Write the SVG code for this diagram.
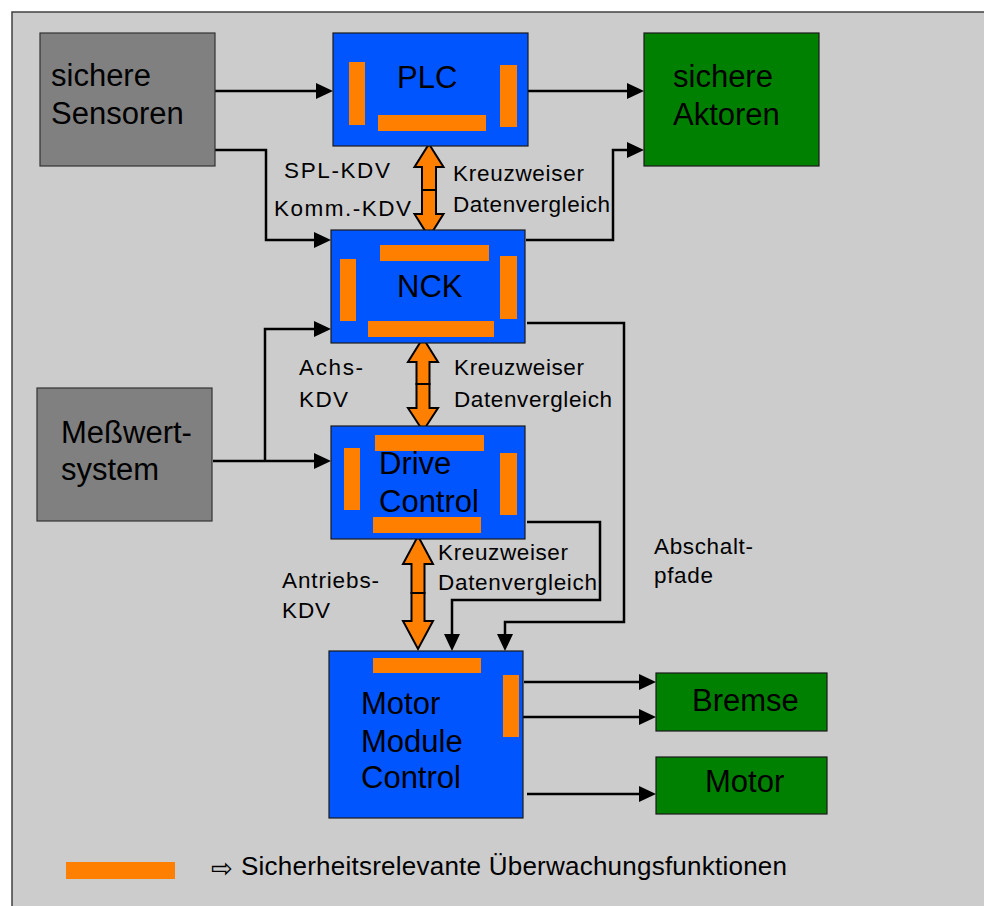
<svg xmlns="http://www.w3.org/2000/svg" width="984" height="906" viewBox="0 0 984 906">
  <style>
    .frame { fill: #cccccc; stroke: #404040; stroke-width: 1.5; }
    .sensor { fill: #808080; stroke: #333333; stroke-width: 1.2; }
    .ctrl { fill: #0055ff; stroke: #1a1a1a; stroke-width: 1.2; }
    .act { fill: #008000; stroke: #1a1a1a; stroke-width: 1.2; }
    .mon { fill: #ff8000; }
    .big { font-family: "Liberation Sans", Arial, sans-serif; font-size: 31px; fill: #000; }
    .lbl { font-family: "Liberation Sans", Arial, sans-serif; font-size: 22.5px; fill: #000; }
    .leg { font-family: "Liberation Sans", Arial, sans-serif; font-size: 26px; fill: #000; }
    .wire { fill: none; stroke: #000; stroke-width: 2.5; }
    .kdv { fill: #ff8000; stroke: #000; stroke-width: 2; stroke-linejoin: miter; }
  </style>
  <defs>
    <marker id="ah" viewBox="0 0 17 16" refX="13" refY="8" markerWidth="17" markerHeight="16" markerUnits="userSpaceOnUse" orient="auto">
      <path d="M0,0 L17,8 L0,16 Z" fill="#000"/>
    </marker>
  </defs>

  <rect x="0" y="0" width="984" height="906" fill="#ffffff"/>
  <rect class="frame" x="12" y="12" width="990" height="910"/>

  <!-- signal lines -->
  <g id="connectors">
    <path class="wire" d="M215,91 H329" marker-end="url(#ah)"/>
    <path class="wire" d="M215,150 H266 V240 H327" marker-end="url(#ah)"/>
    <path class="wire" d="M528,91 H640" marker-end="url(#ah)"/>
    <path class="wire" d="M526,240 H613 V150 H640" marker-end="url(#ah)"/>
    <path class="wire" d="M213,461 H327" marker-end="url(#ah)"/>
    <path class="wire" d="M265,461 V329 H327" marker-end="url(#ah)"/>
    <path class="wire" d="M527,323 H624 V622 H505 V647" marker-end="url(#ah)"/>
    <path class="wire" d="M527,522 H600 V600 H452 V647" marker-end="url(#ah)"/>
    <path class="wire" d="M524,682 H652" marker-end="url(#ah)"/>
    <path class="wire" d="M520,717 H652" marker-end="url(#ah)"/>
    <path class="wire" d="M527,794 H652" marker-end="url(#ah)"/>

    <!-- cross data comparison arrows -->
    <path class="kdv" d="M429,144 L443.5,167 L436,167 L436,190 L422,190 L422,167 L414.5,167 Z"/>
    <path class="kdv" d="M422,190 L436,190 L436,214 L443.5,214 L429,237 L414.5,214 L422,214 Z"/>
    <path class="kdv" d="M423,338 L438,362 L429.5,362 L429.5,384 L416.5,384 L416.5,362 L408,362 Z"/>
    <path class="kdv" d="M416.5,384 L429.5,384 L429.5,408 L438,408 L423,431 L408,408 L416.5,408 Z"/>
    <path class="kdv" d="M418,536 L433,564 L424.5,564 L424.5,593 L411.5,593 L411.5,564 L403,564 Z"/>
    <path class="kdv" d="M411.5,593 L424.5,593 L424.5,621 L433,621 L418,649 L403,621 L411.5,621 Z"/>
  </g>

  <g id="sensoren">
    <rect class="sensor" x="40" y="33" width="175" height="133"/>
    <text class="big" x="51" y="86">sichere</text>
    <text class="big" x="51" y="124">Sensoren</text>
  </g>

  <g id="plc">
    <rect class="ctrl" x="333" y="33" width="195" height="113"/>
    <rect class="mon" x="349" y="62" width="16" height="63"/>
    <rect class="mon" x="500" y="65" width="17" height="62"/>
    <rect class="mon" x="378" y="115" width="108" height="16"/>
    <text class="big" x="397" y="88">PLC</text>
  </g>

  <g id="aktoren">
    <rect class="act" x="644" y="33" width="175" height="133"/>
    <text class="big" x="673" y="87">sichere</text>
    <text class="big" x="673" y="125">Aktoren</text>
  </g>

  <g id="nck">
    <rect class="ctrl" x="331" y="230" width="194" height="113"/>
    <rect class="mon" x="380" y="245" width="109" height="16"/>
    <rect class="mon" x="340" y="259" width="16" height="62"/>
    <rect class="mon" x="500" y="256" width="17" height="63"/>
    <rect class="mon" x="368" y="321" width="126" height="16"/>
    <text class="big" x="397" y="297">NCK</text>
  </g>

  <g id="messwertsystem">
    <rect class="sensor" x="37" y="388" width="175" height="133"/>
    <text class="big" x="61" y="443">Meßwert-</text>
    <text class="big" x="61" y="480">system</text>
  </g>

  <g id="drive-control">
    <rect class="ctrl" x="331" y="426" width="194" height="113"/>
    <rect class="mon" x="375" y="435" width="109" height="16"/>
    <rect class="mon" x="344" y="448" width="16" height="62"/>
    <rect class="mon" x="500" y="453" width="17" height="62"/>
    <rect class="mon" x="373" y="517" width="108" height="16"/>
    <text class="big" x="379" y="474">Drive</text>
    <text class="big" x="379" y="512">Control</text>
  </g>

  <g id="motor-module-control">
    <rect class="ctrl" x="329" y="651" width="194" height="167"/>
    <rect class="mon" x="373" y="658" width="108" height="15"/>
    <rect class="mon" x="503" y="675" width="16" height="62"/>
    <text class="big" x="361" y="714">Motor</text>
    <text class="big" x="361" y="752">Module</text>
    <text class="big" x="361" y="788">Control</text>
  </g>

  <g id="bremse">
    <rect class="act" x="656" y="673" width="171" height="58"/>
    <text class="big" x="692" y="711">Bremse</text>
  </g>

  <g id="motor">
    <rect class="act" x="656" y="757" width="171" height="57"/>
    <text class="big" x="705" y="792">Motor</text>
  </g>

  <!-- connector labels -->
  <g id="labels">
    <text class="lbl" x="284" y="178" textLength="106" lengthAdjust="spacing">SPL-KDV</text>
    <text class="lbl" x="274" y="216" textLength="137" lengthAdjust="spacing">Komm.-KDV</text>
    <text class="lbl" x="453" y="181" textLength="131" lengthAdjust="spacing">Kreuzweiser</text>
    <text class="lbl" x="453" y="212" textLength="157" lengthAdjust="spacing">Datenvergleich</text>
    <text class="lbl" x="299" y="375" textLength="64" lengthAdjust="spacing">Achs-</text>
    <text class="lbl" x="299" y="407" textLength="49" lengthAdjust="spacing">KDV</text>
    <text class="lbl" x="454" y="375" textLength="130" lengthAdjust="spacing">Kreuzweiser</text>
    <text class="lbl" x="454" y="407" textLength="158" lengthAdjust="spacing">Datenvergleich</text>
    <text class="lbl" x="282" y="588" textLength="97" lengthAdjust="spacing">Antriebs-</text>
    <text class="lbl" x="282" y="618" textLength="48" lengthAdjust="spacing">KDV</text>
    <text class="lbl" x="438" y="560" textLength="130" lengthAdjust="spacing">Kreuzweiser</text>
    <text class="lbl" x="438" y="590" textLength="159" lengthAdjust="spacing">Datenvergleich</text>
    <text class="lbl" x="654" y="554" textLength="99" lengthAdjust="spacing">Abschalt-</text>
    <text class="lbl" x="654" y="583" textLength="59" lengthAdjust="spacing">pfade</text>
  </g>

  <!-- legend -->
  <g id="legend">
    <rect class="mon" x="66" y="862" width="109" height="17"/>
    <text x="211" y="877" font-family="DejaVu Sans, sans-serif" font-size="26" fill="#000">⇨</text>
    <text class="leg" x="241" y="875" textLength="546" lengthAdjust="spacing">Sicherheitsrelevante Überwachungsfunktionen</text>
  </g>
</svg>
